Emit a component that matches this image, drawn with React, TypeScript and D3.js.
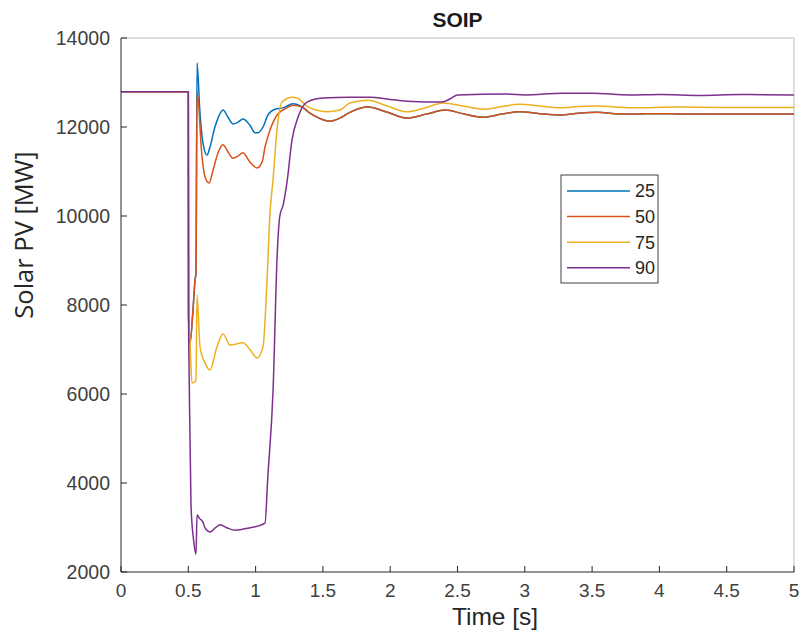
import React from 'react';
import * as d3 from 'd3';

// series: [time (s), solar PV (MW)]
const s25: [number, number][] = [
  [0, 12790], [0.5, 12790], [0.502, 7700], [0.513, 7150], [0.535, 7900], [0.55, 8560], [0.557, 8720],
  [0.565, 13440], [0.585, 12400], [0.609, 11640], [0.639, 11370], [0.661, 11550], [0.698, 12000],
  [0.721, 12200], [0.758, 12380], [0.795, 12220], [0.832, 12070], [0.87, 12110], [0.906, 12180],
  [0.958, 12040], [0.996, 11870], [1.018, 11870], [1.055, 12000], [1.092, 12270], [1.144, 12400],
  [1.204, 12430], [1.278, 12520], [1.345, 12450], [1.404, 12310], [1.47, 12200], [1.553, 12130],
  [1.627, 12200], [1.7, 12330], [1.835, 12450], [1.98, 12330], [2.125, 12200], [2.27, 12290],
  [2.41, 12380], [2.55, 12290], [2.69, 12220], [2.83, 12290], [2.96, 12340], [3.11, 12300],
  [3.26, 12270], [3.4, 12310], [3.54, 12330], [3.67, 12300], [3.8, 12290], [4.0, 12300],
  [4.2, 12290], [4.5, 12290], [5, 12290],
];

const s50: [number, number][] = [
  [0, 12790], [0.5, 12790], [0.502, 7700], [0.513, 7150], [0.535, 7900], [0.55, 8560], [0.557, 8720],
  [0.565, 12790], [0.602, 11330], [0.624, 10880], [0.654, 10740], [0.684, 11030], [0.721, 11420],
  [0.758, 11600], [0.795, 11440], [0.832, 11300], [0.87, 11350], [0.906, 11420], [0.958, 11210],
  [1.01, 11080], [1.048, 11210], [1.07, 11550], [1.107, 11930], [1.159, 12270], [1.233, 12430],
  [1.278, 12490], [1.345, 12450], [1.404, 12310], [1.47, 12200], [1.553, 12130], [1.627, 12200],
  [1.7, 12330], [1.835, 12450], [1.98, 12330], [2.125, 12200], [2.27, 12290], [2.41, 12380],
  [2.55, 12290], [2.69, 12220], [2.83, 12290], [2.96, 12340], [3.11, 12300], [3.26, 12270],
  [3.4, 12310], [3.54, 12330], [3.67, 12300], [3.8, 12290], [4.0, 12300], [4.2, 12290],
  [4.5, 12290], [5, 12290],
];

const s75: [number, number][] = [
  [0, 12790], [0.5, 12790], [0.502, 7700], [0.513, 7150], [0.527, 6250], [0.557, 6300], [0.565, 8220],
  [0.587, 7060], [0.624, 6700], [0.661, 6540], [0.713, 7060], [0.758, 7350], [0.81, 7100],
  [0.906, 7150], [0.958, 7000], [1.01, 6810], [1.055, 7060], [1.085, 8560], [1.107, 10070],
  [1.129, 10800], [1.159, 11930], [1.196, 12560], [1.27, 12670], [1.308, 12650], [1.382, 12470],
  [1.45, 12380], [1.53, 12340], [1.627, 12380], [1.7, 12540], [1.835, 12600], [1.98, 12470],
  [2.125, 12340], [2.27, 12440], [2.39, 12540], [2.54, 12470], [2.69, 12400], [2.83, 12460],
  [2.96, 12510], [3.11, 12470], [3.26, 12430], [3.4, 12460], [3.54, 12470], [3.67, 12450],
  [3.8, 12430], [4.13, 12450], [4.5, 12440], [5, 12440],
];

const s90: [number, number][] = [
  [0, 12790], [0.5, 12790], [0.502, 7700], [0.507, 6300], [0.52, 3500], [0.54, 2700], [0.557, 2400],
  [0.565, 3280], [0.585, 3200], [0.609, 3120], [0.624, 2990], [0.661, 2900], [0.7, 2990],
  [0.736, 3060], [0.79, 2990], [0.847, 2940], [0.95, 2990], [1.07, 3100], [1.09, 4100],
  [1.13, 6100], [1.16, 9100], [1.18, 10000], [1.205, 10250], [1.235, 10800], [1.27, 11700],
  [1.315, 12220], [1.382, 12560], [1.5, 12650], [1.7, 12670], [1.85, 12670], [2.0, 12620],
  [2.125, 12580], [2.385, 12560], [2.45, 12640], [2.5, 12720], [2.87, 12740], [3.0, 12720],
  [3.28, 12760], [3.5, 12760], [3.78, 12720], [4.0, 12730], [4.3, 12710], [4.6, 12730], [5, 12720],
];

const seriesNames = ['25', '50', '75', '90'];
const seriesData = [s25, s50, s75, s90];
const colors = ['#0072BD', '#D95319', '#EDB120', '#7E2F8E'];

const xTicks = [0, 0.5, 1, 1.5, 2, 2.5, 3, 3.5, 4, 4.5, 5];
const yTicks = [2000, 4000, 6000, 8000, 10000, 12000, 14000];

const W = 799;
const H = 630;
const left = 121, right = 794, top = 38, bottom = 572;

export default function App() {
  const x = d3.scaleLinear().domain([0, 5]).range([left, right]);
  const y = d3.scaleLinear().domain([2000, 14000]).range([bottom, top]);
  const line = d3.line<[number, number]>()
    .x((d) => x(d[0]))
    .y((d) => y(d[1]))
    .curve(d3.curveMonotoneX);

  const axisColor = '#262626';
  const tickLen = 6;
  const sans = 'Liberation Sans, Arial, sans-serif';

  return (
    <svg width={W} height={H} style={{ position: 'absolute', left: 0, top: 0, background: '#fff' }}>
      <defs>
        <clipPath id="plot">
          <rect x={left} y={top} width={right - left} height={bottom - top} />
        </clipPath>
      </defs>

      {/* title */}
      <text x={(left + right) / 2} y={27} textAnchor="middle" fontFamily={sans}
        fontWeight="bold" fontSize={21} fill="#1a1a1a">SOIP</text>

      {/* box: top + right lighter */}
      <line x1={left} y1={top} x2={right} y2={top} stroke="#bdbdbd" />
      <line x1={right} y1={top} x2={right} y2={bottom} stroke="#bdbdbd" />

      {/* lines */}
      <g clipPath="url(#plot)">
        {seriesData.map((s, i) => (
          <path key={seriesNames[i]} d={line(s) || ''} fill="none" stroke={colors[i]}
            strokeWidth={1.5} strokeLinejoin="round" />
        ))}
      </g>

      {/* left axis */}
      <line x1={left} y1={top} x2={left} y2={bottom} stroke={axisColor} />
      {yTicks.map((t) => (
        <g key={t}>
          <line x1={left} x2={left + tickLen} y1={y(t)} y2={y(t)} stroke={axisColor} />
          <text x={left - 11} y={y(t)} dy="0.36em" textAnchor="end" fontSize={19.5}
            fontFamily={sans} fill="#404040">{t}</text>
        </g>
      ))}

      {/* bottom axis */}
      <line x1={left} y1={bottom} x2={right} y2={bottom} stroke={axisColor} />
      {xTicks.map((t) => (
        <g key={t}>
          <line x1={x(t)} x2={x(t)} y1={bottom} y2={bottom - tickLen} stroke={axisColor} />
          <text x={x(t)} y={597} textAnchor="middle" fontSize={19}
            fontFamily={sans} fill="#404040">{t}</text>
        </g>
      ))}

      {/* axis labels */}
      <text x={495} y={624.5} textAnchor="middle" fontSize={24.5}
        fontFamily={sans} fill="#262626">Time [s]</text>
      <text transform="translate(33, 235) rotate(-90)" textAnchor="middle"
        fontSize={25.5} fontFamily="Open Sans, sans-serif" fill="#262626">Solar PV [MW]</text>

      {/* legend */}
      <rect x={561} y={175} width={97} height={108} fill="#fff" stroke="#404040" />
      {seriesNames.map((n, i) => {
        const ly = 191 + i * 25.6;
        return (
          <g key={n}>
            <line x1={567} x2={630} y1={ly} y2={ly} stroke={colors[i]} strokeWidth={1.5} />
            <text x={635} y={ly} dy="0.36em" fontSize={18} fontFamily={sans}
              fill="#262626">{n}</text>
          </g>
        );
      })}
    </svg>
  );
}
